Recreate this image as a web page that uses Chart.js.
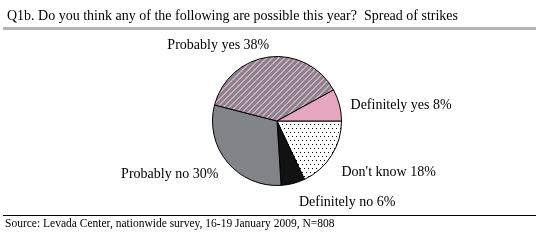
<!DOCTYPE html>
<html>
<head>
<title>Spread of strikes</title>
<script src="https://cdn.jsdelivr.net/npm/chart.js"></script>
<style>
  body { margin: 0; background: #fff; }
  #wrap { width: 552px; height: 240px; }
</style>
</head>
<body>
<div id="wrap"><canvas id="myChart"></canvas></div>
<script>
// data (clockwise from 3 o'clock)
const categories = ["Don't know", 'Definitely no', 'Probably no', 'Probably yes', 'Definitely yes'];
const shares = [18, 6, 30, 38, 8];

const titleText = 'Q1b. Do you think any of the following are possible this year?  Spread of strikes';
const sourceText = 'Source: Levada Center, nationwide survey, 16-19 January 2009, N=808';

// label placement, relative to pie centre in units of radius
const labelPlace = [
    { dx: 1.0, dy: 0.8, align: 'left' },
    { dx: 0.34, dy: 1.26, align: 'left' },
    { dx: -0.91, dy: 0.83, align: 'right' },
    { dx: -0.91, dy: -1.17, align: 'center' },
    { dx: 1.14, dy: -0.25, align: 'left' }
];

function dotPattern() {
    const c = document.createElement('canvas');
    c.width = 4; c.height = 8;
    const g = c.getContext('2d');
    g.fillStyle = '#fff';
    g.fillRect(0, 0, 4, 8);
    g.fillStyle = '#000';
    g.fillRect(0, 0, 1, 1);
    g.fillRect(2, 4, 1, 1);
    return g.createPattern(c, 'repeat');
}

function stripePattern() {
    const c = document.createElement('canvas');
    c.width = 6; c.height = 6;
    const g = c.getContext('2d');
    g.fillStyle = '#86868a';
    g.fillRect(0, 0, 6, 6);
    g.fillStyle = '#d9a6c8';
    for (let i = 0; i < 6; i++) {
        g.fillRect(5 - i, i, 1, 1);
        g.fillRect((6 - i) % 6, i, 1, 1);
    }
    return g.createPattern(c, 'repeat');
}

const colors = [dotPattern(), '#121212', '#818488', stripePattern(), '#e6a6bf'];

const decor = {
    id: 'decor',
    afterDraw(chart) {
        const g = chart.ctx;
        g.save();
        g.fillStyle = '#000';
        g.textBaseline = 'middle';
        g.font = '14px "Liberation Serif", serif';
        g.textAlign = 'left';
        g.fillText(titleText, 7, 16);
        g.fillStyle = '#b4b4b4';
        g.fillRect(3, 27, 533, 3);
        g.fillStyle = '#000';
        g.fillRect(3, 215, 533, 1);
        g.font = '11.5px "Liberation Serif", serif';
        g.fillText(sourceText, 5, 224);

        const meta = chart.getDatasetMeta(0);
        g.font = '14px "Liberation Serif", serif';
        meta.data.forEach((arc, i) => {
            const p = labelPlace[i];
            const r = arc.outerRadius;
            g.textAlign = p.align;
            g.fillText(categories[i] + ' ' + shares[i] + '%', arc.x + p.dx * r, arc.y + p.dy * r);
        });
        g.restore();
    }
};

const ctx = document.getElementById('myChart').getContext('2d');
new Chart(ctx, {
    type: 'pie',
    data: {
        labels: categories,
        datasets: [{
            data: shares,
            backgroundColor: colors,
            borderColor: '#000',
            borderWidth: 1
        }]
    },
    options: {
        responsive: true,
        maintainAspectRatio: false,
        animation: false,
        rotation: 90,
        layout: { padding: { left: 212, right: 210, top: 56, bottom: 54 } },
        plugins: {
            legend: { display: false },
            tooltip: { enabled: false }
        }
    },
    plugins: [decor]
});
</script>
</body>
</html>
